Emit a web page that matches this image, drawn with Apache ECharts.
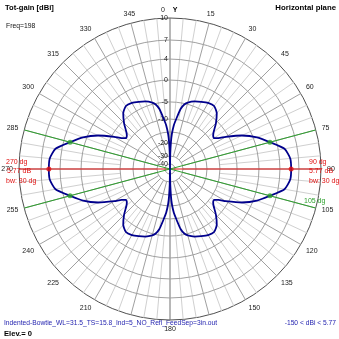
<!DOCTYPE html>
<html>
<head>
<meta charset="utf-8">
<script src="https://cdn.jsdelivr.net/npm/echarts@6/dist/echarts.min.js"></script>
<style>
  html, body { margin: 0; padding: 0; background: #fff; }
  #chart { width: 339px; height: 339px; }
</style>
</head>
<body>
<div id="chart"></div>
<script>
// Total gain (dBi) in the horizontal plane, azimuth measured clockwise from Y.
const ANGLE_DEG = [
  0, 1, 2, 3, 5, 7.5, 10, 12.5, 15, 20, 25, 30, 35, 40, 45, 50, 52.5, 55, 57.5, 60, 65, 70, 75, 80, 85, 90,
  95, 100, 105, 110, 115, 120, 122.5, 125, 127.5, 130, 135, 140, 145, 150, 155, 160, 165, 167.5, 170, 172.5, 175, 177, 178, 179, 180,
  181, 182, 183, 185, 187.5, 190, 192.5, 195, 200, 205, 210, 215, 220, 225, 230, 232.5, 235, 237.5, 240, 245, 250, 255, 260, 265, 270,
  275, 280, 285, 290, 295, 300, 302.5, 305, 307.5, 310, 315, 320, 325, 330, 335, 340, 345, 347.5, 350, 352.5, 355, 357, 358, 359, 360
];
const GAIN_DBI = [
  -150, -28, -19.5, -16, -12.3, -9.5, -6.8, -5.3, -4.6, -3.9, -3.4, -2.9, -2.75, -3.7, -5.6, -8.0, -8.7, -8.9, -7.8, -5.8, -2.2, 0.7, 2.77, 5.0, 5.7, 5.77,
  5.7, 5.0, 2.77, 0.7, -2.2, -5.8, -7.8, -8.9, -8.7, -8.0, -5.6, -3.7, -2.75, -2.9, -3.4, -3.9, -4.6, -5.3, -6.8, -9.5, -12.3, -16, -19.5, -28, -150,
  -28, -19.5, -16, -12.3, -9.5, -6.8, -5.3, -4.6, -3.9, -3.4, -2.9, -2.75, -3.7, -5.6, -8.0, -8.7, -8.9, -7.8, -5.8, -2.2, 0.7, 2.77, 5.0, 5.7, 5.77,
  5.7, 5.0, 2.77, 0.7, -2.2, -5.8, -7.8, -8.9, -8.7, -8.0, -5.6, -3.7, -2.75, -2.9, -3.4, -3.9, -4.6, -5.3, -6.8, -9.5, -12.3, -16, -19.5, -28, -150
];

// Gain circles and their captions
const RING_DB = [10, 7, 4, 0, -5, -10, -15, -20, -30, -40];
const RING_TEXT = ['10', '7', '4', '0', '-5', '-10', '', '-20', '-30', '-40'];

// Azimuth captions that are left out (0 is written separately next to "Y")
const HIDDEN_AZ = [0, 165, 195, 360];

// Maximum and half-power (-3 dB) directions
const MAX_DIR = [90, 270];
const MAX_GAIN = 5.77;
const HALF_DIR = [75, 105, 255, 285];
const HALF_GAIN = 2.77;
const BEAMWIDTH = 30;
const MIN_GAIN = -150;

// Compressed (log-like) gain scale: dB -> fraction of the plot radius
const SCALE_DB = [10, 7, 4, 0, -5, -10, -15, -20, -30, -40, -150];
const SCALE_R  = [1, 0.854, 0.728, 0.589, 0.444, 0.331, 0.245, 0.172, 0.086, 0.033, 0];
function toRadius(db) {
  if (db >= SCALE_DB[0]) return 1;
  for (let i = 1; i < SCALE_DB.length; i++) {
    if (db >= SCALE_DB[i]) {
      const t = (db - SCALE_DB[i]) / (SCALE_DB[i - 1] - SCALE_DB[i]);
      return SCALE_R[i] + t * (SCALE_R[i - 1] - SCALE_R[i]);
    }
  }
  return 0;
}

const FONT = '"Liberation Sans", Arial, sans-serif';
const RED = '#e01010';
const GREEN = '#2ea02e';
const BLUE = '#00008c';
const TEXT_BLUE = '#2424b0';

const patternData = ANGLE_DEG.map((a, i) => [toRadius(GAIN_DBI[i]), a]);

// Azimuth grid: every 5 degrees
const gridAngles = [];
for (let a = 0; a < 360; a += 5) gridAngles.push(a);

const chart = echarts.init(document.getElementById('chart'), null, { renderer: 'canvas' });

const option = {
  animation: false,
  backgroundColor: '#fff',
  polar: { center: [170, 169], radius: 151 },
  angleAxis: {
    type: 'value', min: 0, max: 360, interval: 15,
    startAngle: 90, clockwise: true,
    axisLine: { show: true, lineStyle: { color: '#505050', width: 1 } },
    axisTick: { show: false },
    splitLine: { show: false },
    axisLabel: {
      margin: 6, fontSize: 7, fontFamily: FONT, color: '#222',
      formatter: v => HIDDEN_AZ.indexOf(v) >= 0 ? '' : String(v)
    }
  },
  radiusAxis: {
    type: 'value', min: 0, max: 1,
    axisLine: { show: false }, axisTick: { show: false },
    axisLabel: { show: false }, splitLine: { show: false }
  },
  series: [
    {
      // radial grid lines
      type: 'custom', coordinateSystem: 'polar', silent: true, z: 1,
      data: gridAngles.map(a => [1, a]),
      renderItem: (params, api) => {
        const a = gridAngles[params.dataIndex];
        const axis = a % 180 === 0;
        const major = a % 15 === 0;
        const r0 = axis ? 0 : (major ? toRadius(-30) : toRadius(-10));
        const p0 = api.coord([r0, a]);
        const p1 = api.coord([1, a]);
        return {
          type: 'line',
          shape: { x1: p0[0], y1: p0[1], x2: p1[0], y2: p1[1] },
          style: { stroke: axis ? '#707070' : (major ? '#a0a0a0' : '#d0d0d0'), lineWidth: 1 }
        };
      }
    },
    {
      // gain circles with captions
      type: 'custom', coordinateSystem: 'polar', silent: true, z: 1,
      data: RING_DB.map(d => [toRadius(d), 0]),
      renderItem: (params, api) => {
        const db = RING_DB[params.dataIndex];
        const c = api.coord([0, 0]);
        const p = api.coord([toRadius(db), 0]);
        const r = Math.hypot(p[0] - c[0], p[1] - c[1]);
        const children = [];
        if (db !== 10) {
          children.push({
            type: 'circle', shape: { cx: c[0], cy: c[1], r: r },
            style: { fill: 'none', stroke: '#a0a0a0', lineWidth: 1 }
          });
        }
        const txt = RING_TEXT[params.dataIndex];
        if (txt) {
          children.push({
            type: 'text', x: p[0] - 2, y: p[1], z2: 5,
            style: { text: txt, fill: '#222', font: '7px ' + FONT, textAlign: 'right', textVerticalAlign: 'middle' }
          });
        }
        return { type: 'group', children: children };
      }
    },
    {
      type: 'line', coordinateSystem: 'polar', silent: true, z: 3,
      symbol: 'none', data: [[1, MAX_DIR[0]], [1, MAX_DIR[1]]],
      lineStyle: { color: RED, width: 1 }
    },
    {
      type: 'line', coordinateSystem: 'polar', silent: true, z: 3,
      symbol: 'none', data: [[1, HALF_DIR[0]], [1, HALF_DIR[2]]],
      lineStyle: { color: GREEN, width: 1 }
    },
    {
      type: 'line', coordinateSystem: 'polar', silent: true, z: 3,
      symbol: 'none', data: [[1, HALF_DIR[1]], [1, HALF_DIR[3]]],
      lineStyle: { color: GREEN, width: 1 }
    },
    {
      name: 'Tot-gain', type: 'line', coordinateSystem: 'polar', z: 4,
      symbol: 'none', smooth: 0.2, data: patternData,
      lineStyle: { color: BLUE, width: 1.8 }
    },
    {
      type: 'scatter', coordinateSystem: 'polar', z: 5, symbolSize: 5,
      data: HALF_DIR.map(a => [toRadius(HALF_GAIN), a]),
      itemStyle: { color: GREEN }
    },
    {
      type: 'scatter', coordinateSystem: 'polar', z: 5, symbolSize: 5,
      data: MAX_DIR.map(a => [toRadius(MAX_GAIN), a]),
      itemStyle: { color: RED }
    }
  ],
  graphic: [
    { type: 'text', x: 5, y: 8, style: { text: 'Tot-gain [dBi]', fill: '#000', font: 'bold 7.6px ' + FONT, textVerticalAlign: 'middle' } },
    { type: 'text', x: 6, y: 26, style: { text: 'Freq=198', fill: '#111', font: '6.8px ' + FONT, textVerticalAlign: 'middle' } },
    { type: 'text', x: 336, y: 8, style: { text: 'Horizontal plane', fill: '#000', font: 'bold 7.8px ' + FONT, textAlign: 'right', textVerticalAlign: 'middle' } },
    { type: 'text', x: 163, y: 10, style: { text: '0', fill: '#222', font: '7px ' + FONT, textAlign: 'center', textVerticalAlign: 'middle' } },
    { type: 'text', x: 175, y: 10, style: { text: 'Y', fill: '#000', font: 'bold 7px ' + FONT, textAlign: 'center', textVerticalAlign: 'middle' } },

    { type: 'text', x: 309, y: 162.5, z: 10, style: { text: MAX_DIR[0] + ' dg', fill: RED, font: '7px ' + FONT, textVerticalAlign: 'middle' } },
    { type: 'text', x: 309, y: 171.5, z: 10, style: { text: MAX_GAIN + ' dB', fill: RED, font: '7px ' + FONT, textVerticalAlign: 'middle' } },
    { type: 'text', x: 309, y: 181, z: 10, style: { text: 'bw: ' + BEAMWIDTH + ' dg', fill: RED, font: '7px ' + FONT, textVerticalAlign: 'middle' } },
    { type: 'text', x: 6, y: 162.5, z: 10, style: { text: MAX_DIR[1] + ' dg', fill: RED, font: '7px ' + FONT, textVerticalAlign: 'middle' } },
    { type: 'text', x: 7, y: 171.5, z: 10, style: { text: MAX_GAIN + ' dB', fill: RED, font: '7px ' + FONT, textVerticalAlign: 'middle' } },
    { type: 'text', x: 6, y: 181, z: 10, style: { text: 'bw: ' + BEAMWIDTH + ' dg', fill: RED, font: '7px ' + FONT, textVerticalAlign: 'middle' } },
    { type: 'text', x: 304, y: 201, z: 10, style: { text: HALF_DIR[1] + ' dg', fill: GREEN, font: '7px ' + FONT, textVerticalAlign: 'middle' } },

    { type: 'text', x: 4, y: 323, style: { text: 'Indented-Bowtie_WL=31.5_TS=15.8_Ind=5_NO_Refl_FeedSep=3in.out', fill: TEXT_BLUE, font: '6.7px ' + FONT, textVerticalAlign: 'middle' } },
    { type: 'text', x: 336, y: 323, style: { text: MIN_GAIN + ' < dBi < ' + MAX_GAIN, fill: TEXT_BLUE, font: '6.7px ' + FONT, textAlign: 'right', textVerticalAlign: 'middle' } },
    { type: 'text', x: 4, y: 334, style: { text: 'Elev.= 0', fill: '#000', font: 'bold 7.6px ' + FONT, textVerticalAlign: 'middle' } }
  ]
};

chart.setOption(option);
</script>
</body>
</html>
